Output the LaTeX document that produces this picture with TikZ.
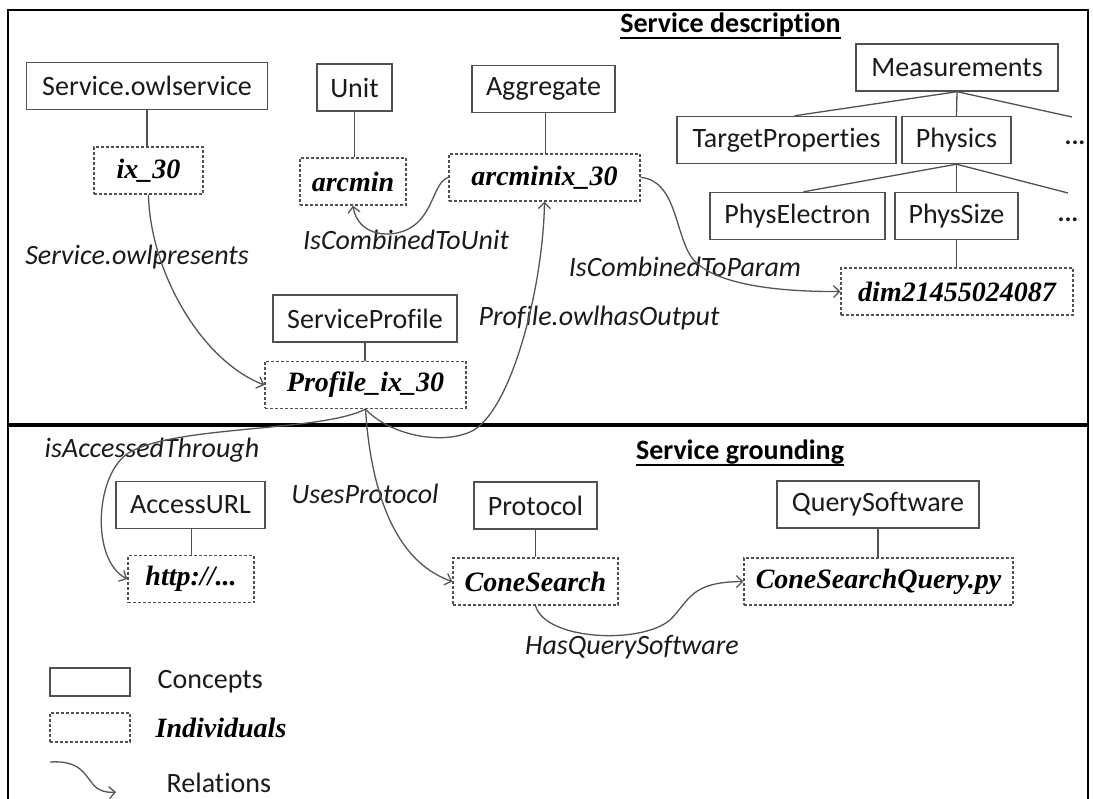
\documentclass[tikz,border=0pt]{standalone}
\usepackage{fontspec}
\setmainfont[Ligatures=NoCommon]{Carlito}
\newfontfamily\indfont{Liberation Serif}
\usetikzlibrary{arrows.meta}
\definecolor{boxgray}{HTML}{505050}
\definecolor{relgray}{HTML}{555555}
\definecolor{txt}{HTML}{1A1A1A}
\begin{document}
\begin{tikzpicture}[x=1pt,y=-1pt,
  concept/.style={draw=boxgray, line width=1.4pt, minimum height=47pt, inner sep=0pt, font=\fontsize{28}{30}\selectfont, text=txt},
  indiv/.style={draw=boxgray, line width=1.4pt, dash pattern=on 3pt off 2pt, minimum height=47pt, inner sep=0pt, font=\indfont\bfseries\itshape\fontsize{28}{30}\selectfont, text=black},
  rel/.style={draw=relgray, line width=1.3pt, -{Straight Barb[length=6pt,width=12pt]}},
  lbl/.style={font=\itshape\fontsize{28}{30}\selectfont, inner sep=0pt, text=txt},
  link/.style={draw=boxgray, line width=1.3pt},
  dots/.style={font=\bfseries\fontsize{26}{28}\selectfont, inner sep=0pt, text=txt},
  title/.style={font=\bfseries\fontsize{28}{30}\selectfont, inner sep=0pt, anchor=base, text=black}]
\useasboundingbox (0,0) rectangle (1093,799);
% frame
\draw[line width=1.8pt, black] (8,799) -- (8,10) -- (1088,10) -- (1088,799);
\draw[line width=3.5pt, black] (8,425) -- (1088,425);
% titles
\node[title] (t1) at (730.5,33) {Service description};
\draw[line width=2pt] ([yshift=-5pt]t1.base west) -- ([yshift=-5pt]t1.base east);
\node[title] (t2) at (740,460) {Service grounding};
\draw[line width=2pt] ([yshift=-5pt]t2.base west) -- ([yshift=-5pt]t2.base east);
% concepts and individuals (top)
\node[concept, minimum width=241pt] (svc) at (147,86) {Service.owlservice};
\node[concept, minimum width=75pt] (unit) at (354.5,87.5) {Unit};
\node[concept, minimum width=143pt] (agg) at (543.5,89) {Aggregate};
\node[concept, minimum width=202pt] (meas) at (957,67.5) {Measurements};
\node[concept, minimum width=219pt] (tp) at (786.5,140) {TargetProperties};
\node[concept, minimum width=109pt] (phys) at (956.5,140) {Physics};
\node[dots] (dots1) at (1075,143) {...};
\node[concept, minimum width=175pt] (pe) at (797.5,216) {PhysElectron};
\node[concept, minimum width=123pt] (ps) at (956.5,216) {PhysSize};
\node[dots] (dots2) at (1068,220) {...};
\node[indiv, minimum width=232pt] (dim) at (957,291.5) {dim21455024087};
\node[indiv, minimum width=109pt] (ix) at (148.5,170.5) {ix\_30};
\node[indiv, minimum width=106pt] (arcmin) at (353,181.5) {arcmin};
\node[indiv, minimum width=191pt] (arcx) at (544.5,177.5) {arcminix\_30};
\node[concept, minimum width=184pt] (sp) at (365,318.5) {ServiceProfile};
\node[indiv, minimum width=201pt] (pix) at (365.5,385) {Profile\_ix\_30};
% bottom
\node[concept, minimum width=149pt] (aurl) at (190.5,505) {AccessURL};
\node[indiv, minimum width=126pt] (http) at (191,579) {http://...};
\node[concept, minimum width=123pt] (proto) at (535.5,505.5) {Protocol};
\node[indiv, minimum width=165pt] (cone) at (535.5,581.5) {ConeSearch};
\node[concept, minimum width=202pt] (qs) at (878,504.5) {QuerySoftware};
\node[indiv, minimum width=269pt] (csq) at (878.5,581.5) {ConeSearchQuery.py};
% hierarchy
\coordinate (m3) at (1072,117);
\coordinate (p3) at (1068,193);
\draw[link] (meas.south) -- ([xshift=8pt]tp.north);
\draw[link] (meas.south) -- (phys.north);
\draw[link] (meas.south) -- (m3);
\draw[link] (phys.south) -- ([xshift=6pt]pe.north);
\draw[link] (phys.south) -- (ps.north);
\draw[link] (phys.south) -- (p3);
\draw[link] (ps.south) -- (ps.south |- dim.north);
% concept-individual links
\draw[link] (svc.south) -- (svc.south |- ix.north);
\draw[link] (unit.south) -- (unit.south |- arcmin.north);
\draw[link] ([xshift=2pt]agg.south) -- ([xshift=2pt]agg.south |- arcx.north);
\draw[link] (sp.south) -- (sp.south |- pix.north);
\draw[link] ([xshift=1pt]aurl.south) -- ([xshift=1pt]aurl.south |- http.north);
\draw[link] (proto.south) -- (proto.south |- cone.north);
\draw[link] (qs.south) -- (qs.south |- csq.north);
% labels
\node[lbl] (l1) at (137,257) {Service.owlpresents};
\node[lbl] (l2) at (406,240) {IsCombinedToUnit};
\node[lbl] (l3) at (685,267) {IsCombinedToParam};
\node[lbl] (l4) at (599,318) {Profile.owlhasOutput};
\node[lbl] (l5) at (152,450) {isAccessedThrough};
\node[lbl] (l6) at (365,494) {UsesProtocol};
\node[lbl] (l7) at (632,647) {HasQuerySoftware};
% relations
\draw[rel] (ix.south) .. controls (150,270) and (200,360) .. (pix.west);
\draw[rel] (arcx.west) .. controls (430,183) and (435,230) .. (390,234) .. controls (365,235) and (355,220) .. (arcmin.south);
\draw[rel] (arcx.east) .. controls (675,180) and (675,230) .. (690,255) .. controls (705,280) and (760,292) .. (dim.west);
\draw[rel] (pix.south) .. controls (390,435) and (440,445) .. (470,432) .. controls (510,415) and (543,290) .. (arcx.south);
\draw[rel] (pix.south) .. controls (320,432) and (180,425) .. (130,452) .. controls (95,472) and (90,560) .. (http.west);
\draw[rel] (pix.south) .. controls (370,480) and (390,560) .. (cone.west);
\draw[rel] (cone.south) .. controls (545,640) and (640,645) .. (670,620) .. controls (690,600) and (690,582) .. (csq.west);
% legend
\node[concept, minimum width=80pt, minimum height=28pt] (lc) at (90,682) {};
\node[concept, draw=none, anchor=west] (lct) at (157,682) {Concepts};
\node[indiv, minimum width=80pt, minimum height=29pt] (li) at (90,727.5) {};
\node[indiv, draw=none, anchor=west] (lit) at (155,727.5) {Individuals};
\coordinate (r1) at (50,762);
\coordinate (r2) at (116,792);
\draw[rel] (r1) .. controls (80,760) and (85,775) .. (92,783) .. controls (97,790) and (105,793) .. (r2);
\node[concept, draw=none, anchor=west] (lrt) at (166,783) {Relations};
\end{tikzpicture}
\end{document}
